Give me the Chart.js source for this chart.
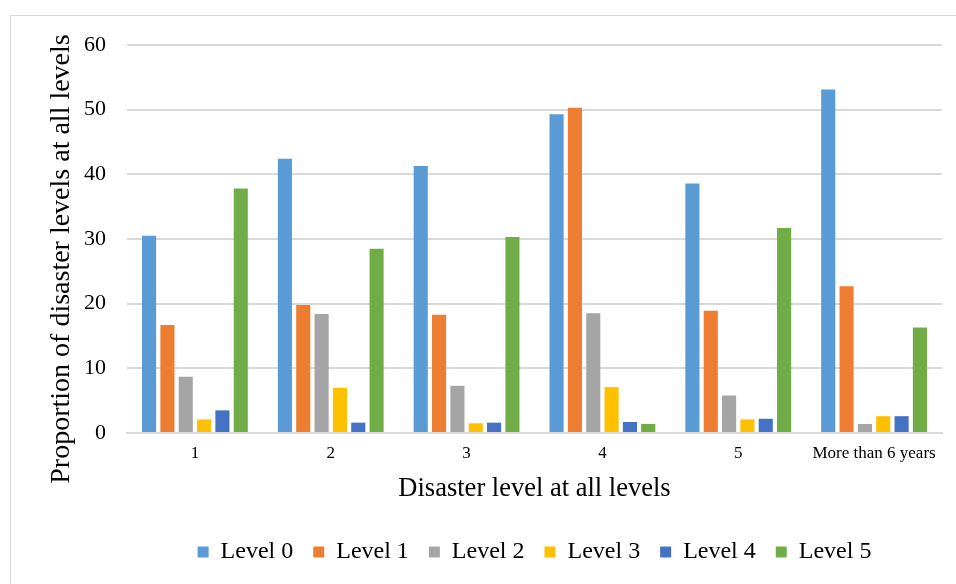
<!DOCTYPE html>
<html>
<head>
<meta charset="utf-8">
<script src="https://cdn.jsdelivr.net/npm/chart.js@4/dist/chart.umd.min.js"></script>
<style>
  html, body { margin: 0; padding: 0; background: #fff; }
  #wrap { position: relative; width: 956px; height: 584px; overflow: hidden; }
  #frame { position: absolute; left: 10px; top: 15px; width: 960px; height: 600px; border: 1px solid #d9d9d9; box-sizing: border-box; pointer-events: none; }
  canvas { position: absolute; left: 0; top: 0; }
</style>
</head>
<body>
<div id="wrap">
  <canvas id="c" width="956" height="584"></canvas>
  <div id="frame"></div>
</div>
<script>
const categories = ["1", "2", "3", "4", "5", "More than 6 years"];
const seriesNames = ["Level 0", "Level 1", "Level 2", "Level 3", "Level 4", "Level 5"];
const level0 = [30.5, 42.4, 41.3, 49.3, 38.6, 53.1];
const level1 = [16.7, 19.8, 18.3, 50.3, 18.9, 22.7];
const level2 = [8.7, 18.4, 7.3, 18.5, 5.8, 1.4];
const level3 = [2.1, 7.0, 1.5, 7.1, 2.1, 2.6];
const level4 = [3.5, 1.6, 1.6, 1.7, 2.2, 2.6];
const level5 = [37.8, 28.5, 30.3, 1.4, 31.7, 16.3];
const yTicks = [0, 10, 20, 30, 40, 50, 60];
const xTitle = "Disaster level at all levels";
const yTitle = "Proportion of disaster levels at all levels";
const colors = ["#5b9bd5", "#ed7d31", "#a5a5a5", "#ffc000", "#4472c4", "#70ad47"];

const allSeries = [level0, level1, level2, level3, level4, level5];
const datasets = allSeries.map((d, i) => ({
  label: seriesNames[i],
  data: d,
  backgroundColor: colors[i],
  borderWidth: 0,
  categoryPercentage: 0.81,
  barPercentage: 0.77
}));

const serif = "'Liberation Serif', 'Times New Roman', serif";

const yTitlePlugin = {
  id: "yTitle",
  afterDraw(chart) {
    const ctx = chart.ctx;
    ctx.save();
    ctx.translate(62, 259);
    ctx.rotate(-Math.PI / 2);
    ctx.font = "28px " + serif;
    ctx.fillStyle = "#000";
    ctx.textAlign = "center";
    ctx.textBaseline = "middle";
    ctx.fillText(yTitle, 0, 0);
    ctx.restore();
  }
};

new Chart(document.getElementById("c"), {
  type: "bar",
  data: { labels: categories, datasets },
  plugins: [yTitlePlugin],
  options: {
    responsive: false,
    animation: false,
    devicePixelRatio: 1,
    layout: { padding: { left: 40, right: 14, top: 45, bottom: 10 } },
    plugins: {
      legend: {
        position: "bottom",
        fullSize: false,
        labels: {
          font: { family: serif, size: 24 },
          color: "#000",
          boxWidth: 11,
          boxHeight: 11,
          padding: 20
        }
      },
      tooltip: { enabled: false }
    },
    scales: {
      x: {
        grid: { display: false, drawTicks: false },
        border: { display: true, color: "#d9d9d9", width: 2 },
        ticks: { font: { family: serif, size: 17 }, color: "#000", padding: 10, maxRotation: 0, autoSkip: false },
        title: { display: true, text: xTitle, font: { family: serif, size: 26.5 }, color: "#000", padding: { top: 6, bottom: 15 } },
        afterFit(scale) { scale.height = 87; }
      },
      y: {
        min: 0, max: 60,
        afterBuildTicks(scale) { scale.ticks = yTicks.map(v => ({ value: v })); },
        grid: { color: "#d9d9d9", lineWidth: 2, drawTicks: false },
        border: { display: false },
        ticks: { font: { family: serif, size: 22 }, color: "#000", padding: 21 },
        title: { display: false },
        afterFit(scale) { scale.width = 87; }
      }
    }
  }
});
</script>
</body>
</html>
